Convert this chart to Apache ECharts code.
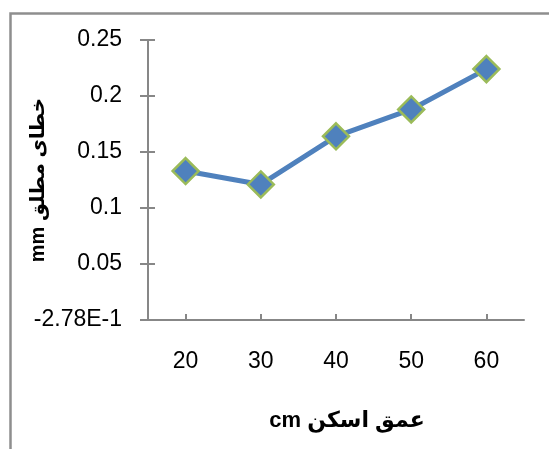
<!DOCTYPE html>
<html>
<head>
<meta charset="utf-8">
<script src="https://cdn.jsdelivr.net/npm/echarts@6/dist/echarts.min.js"></script>
<style>
  html, body { margin: 0; padding: 0; background: #ffffff; }
  #chart { width: 549px; height: 449px; }
</style>
</head>
<body>
<div id="chart"></div>
<script>
// Scan depth (cm) and the absolute error measured at each depth (mm)
const depths = ['20', '30', '40', '50', '60'];
const absError = [0.133, 0.121, 0.164, 0.188, 0.224];
const yTickLabels = ['-2.78E-1', '0.05', '0.1', '0.15', '0.2', '0.25'];
const yStep = 0.05;

// Axis titles are right-to-left; wrap them in an RTL embedding so the
// Latin unit lands on the left as in Persian text.
const RLE = '\u202B', PDF = '\u202C';
const xTitle = RLE + 'عمق اسکن cm' + PDF;
const yTitle = RLE + 'خطای مطلق mm' + PDF;

const FONT = '"Liberation Sans", "DejaVu Sans", Arial, sans-serif';
const AXIS_GREY = '#878787';

const chart = echarts.init(document.getElementById('chart'), null, { renderer: 'canvas' });

const yBase = {
  type: 'value',
  min: 0,
  max: 0.25,
  interval: yStep,
  position: 'left',
  splitLine: { show: false },
  axisLine: { show: true, lineStyle: { color: AXIS_GREY, width: 2 } }
};

chart.setOption({
  animation: false,
  backgroundColor: '#ffffff',
  graphic: [{
    type: 'rect',
    left: 8, top: 11,
    shape: { x: 0, y: 0, width: 600, height: 500 },
    style: { fill: null, stroke: '#8e8e8e', lineWidth: 2.5 },
    silent: true
  }],
  grid: { left: 148, top: 40, width: 376, height: 280, containLabel: false },
  xAxis: {
    type: 'category',
    data: depths,
    boundaryGap: true,
    name: xTitle,
    nameLocation: 'middle',
    nameGap: 90,
    nameMoveOverlap: false,
    nameTextStyle: {
      fontFamily: FONT, fontSize: 22, fontWeight: 'bold', color: '#000',
      padding: [0, 0, 0, 22]
    },
    axisLine: { show: true, lineStyle: { color: AXIS_GREY, width: 2 } },
    axisTick: { show: true, inside: true, length: 6, alignWithLabel: true,
                lineStyle: { color: AXIS_GREY, width: 2 } },
    axisLabel: { fontFamily: FONT, fontSize: 23, color: '#000', margin: 30 },
    splitLine: { show: false }
  },
  yAxis: [
    Object.assign({}, yBase, {
      name: yTitle,
      nameLocation: 'middle',
      nameGap: 100,
      nameMoveOverlap: false,
      nameTextStyle: { fontFamily: FONT, fontSize: 20, fontWeight: 'bold', color: '#000' },
      axisTick: { show: true, inside: false, length: 8, lineStyle: { color: AXIS_GREY, width: 2 } },
      axisLabel: {
        fontFamily: FONT, fontSize: 23, color: '#000', margin: 26,
        formatter: function (v) { return yTickLabels[Math.round(v / yStep)]; }
      }
    }),
    Object.assign({}, yBase, {
      axisTick: { show: true, inside: true, length: 7, lineStyle: { color: AXIS_GREY, width: 2 } },
      axisLabel: { show: false }
    })
  ],
  series: [{
    type: 'line',
    data: absError,
    yAxisIndex: 0,
    symbol: 'diamond',
    symbolSize: 26,
    lineStyle: { color: '#4F81BD', width: 5 },
    itemStyle: { color: '#4F81BD', borderColor: '#9BBB59', borderWidth: 2.5 },
    z: 5
  }]
});
</script>
</body>
</html>
